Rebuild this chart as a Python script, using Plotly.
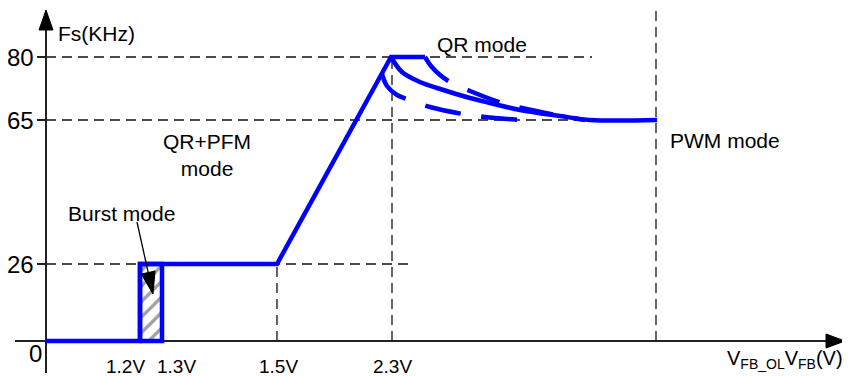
import math
import plotly.graph_objects as go

# ---- schematic axis units (x: distance from origin, y: height above 0) ----
# tick labels
y_tick_text = ["80", "65", "26"]
y_tick_pos = [284, 221, 77]
x_tick_text = ["1.2V", "1.3V", "1.5V", "2.3V"]
x_tick_pos = [94, 116, 231, 346]          # where each voltage sits on the axis
x_label_pos = [79, 130, 232, 346]          # where each label is written
x_pwm = 610                                # V_FB_OL boundary (PWM mode)

# main frequency curve: 0 -> burst -> 26k flat -> ramp -> 80k
main_x = [0, 94, 94, 231, 345, 379]
main_y = [0, 0, 77, 77, 284, 284]

# burst-mode hatched box (1.2V..1.3V, 0..26k)
burst_x = [94, 116, 116, 94, 94]
burst_y = [0, 0, 77, 77, 0]

# QR-mode decay curves
solid_x = [345, 356, 374, 391, 424, 444, 474, 514, 544, 611]
solid_y = [284, 269, 259, 253, 243, 238, 231, 225, 221, 221]
upper_x = [379, 385, 394, 404, 424, 456, 476, 510, 539]
upper_y = [284, 275, 266, 259, 250, 238, 233, 226, 221]
lower_x = [336, 341, 351, 364, 384, 417, 439, 474]
lower_y = [267, 255, 246, 241, 234, 227, 224, 221]

# "Burst mode" pointer: tail and tip
arrow_tail = (91, 119)
arrow_tip = (107, 47)

BLUE = "#0000FF"
FONT = "Liberation Sans, Arial, sans-serif"

fig = go.Figure()

fig.add_trace(go.Scatter(
    x=burst_x, y=burst_y, mode="lines", fill="toself",
    fillcolor="white",
    fillpattern=dict(shape="/", fgcolor="#444444", bgcolor="white", size=11, solidity=0.3),
    line=dict(color=BLUE, width=4.5), hoverinfo="skip"))
fig.add_trace(go.Scatter(x=main_x, y=main_y, mode="lines",
                         line=dict(color=BLUE, width=4.5), hoverinfo="skip"))
fig.add_trace(go.Scatter(x=solid_x, y=solid_y, mode="lines", line_shape="spline",
                         line=dict(color=BLUE, width=4.5), hoverinfo="skip"))
fig.add_trace(go.Scatter(x=upper_x, y=upper_y, mode="lines", line_shape="spline",
                         line=dict(color=BLUE, width=4.5, dash="34px,21px"), hoverinfo="skip"))
fig.add_trace(go.Scatter(x=lower_x, y=lower_y, mode="lines", line_shape="spline",
                         line=dict(color=BLUE, width=4.5, dash="36px,21px"), hoverinfo="skip"))

DASH = dict(color="#111111", width=1.3, dash="10px,6px")
shapes = []
# horizontal guide lines
shapes.append(dict(type="line", x0=0, x1=546, y0=284, y1=284, line=DASH, layer="below"))
shapes.append(dict(type="line", x0=0, x1=610, y0=221, y1=221, line=DASH, layer="below"))
shapes.append(dict(type="line", x0=0, x1=364, y0=77, y1=77, line=DASH, layer="below"))
# vertical guide lines
shapes.append(dict(type="line", x0=231, x1=231, y0=0, y1=77, line=DASH, layer="below"))
shapes.append(dict(type="line", x0=346, x1=346, y0=0, y1=284, line=DASH, layer="below"))
shapes.append(dict(type="line", x0=x_pwm, x1=x_pwm, y0=0, y1=333, line=DASH, layer="below"))
# axes
AX = dict(color="#222222", width=2)
shapes.append(dict(type="line", x0=-31, x1=782, y0=0, y1=0, line=AX, layer="below"))
shapes.append(dict(type="line", x0=0, x1=0, y0=-32, y1=313, line=AX, layer="below"))
shapes.append(dict(type="path", path="M 780 7 L 799 0 L 780 -7 Z",
                   fillcolor="black", line=dict(color="black", width=1)))
shapes.append(dict(type="path", path="M -7 311 L 0 331 L 7 311 Z",
                   fillcolor="black", line=dict(color="black", width=1)))
# y tick marks
for yp in y_tick_pos:
    shapes.append(dict(type="line", x0=-9, x1=0, y0=yp, y1=yp, line=AX, layer="below"))

# burst-mode pointer arrow (line + filled head)
tx, ty = arrow_tail
px, py = arrow_tip
dx, dy = px - tx, py - ty
L = math.hypot(dx, dy)
ux, uy = dx / L, dy / L
head_len, head_half = 22, 7
bx, by = px - ux * head_len, py - uy * head_len
nx, ny = -uy, ux
shapes.append(dict(type="line", x0=tx, y0=ty, x1=bx, y1=by,
                   line=dict(color="black", width=1.3)))
shapes.append(dict(type="path",
                   path=f"M {px} {py} L {bx + nx * head_half} {by + ny * head_half} "
                        f"L {bx - nx * head_half} {by - ny * head_half} Z",
                   fillcolor="black", line=dict(color="black", width=1)))

ann = []
for t, yp in zip(y_tick_text, y_tick_pos):
    ann.append(dict(x=-10, y=yp, text=t, xanchor="right", yanchor="middle",
                    showarrow=False, font=dict(size=24, family=FONT, color="black")))
ann.append(dict(x=-11, y=-12, text="0", xanchor="center", yanchor="middle",
                showarrow=False, font=dict(size=24, family=FONT, color="black")))
for t, xp in zip(x_tick_text, x_label_pos):
    ann.append(dict(x=xp, y=-25, text=t, xanchor="center", yanchor="middle",
                    showarrow=False, font=dict(size=19, family=FONT, color="black")))

LBL = dict(size=21, family=FONT, color="black")
ann += [
    dict(x=10, y=308, text="Fs(KHz)", xanchor="left", yanchor="middle", showarrow=False, font=LBL),
    dict(x=436, y=297, text="QR mode", xanchor="center", yanchor="middle", showarrow=False, font=LBL),
    dict(x=161, y=186, text="QR+PFM<br>mode", xanchor="center", yanchor="middle", showarrow=False, font=LBL),
    dict(x=622, y=201, text="PWM mode", xanchor="left", yanchor="middle", showarrow=False, font=LBL),
    dict(x=75, y=128, text="Burst mode", xanchor="center", yanchor="middle", showarrow=False, font=LBL),
    dict(x=799, y=-18, text="V<sub>FB_OL</sub>V<sub>FB</sub>(V)", xanchor="right", yanchor="middle",
         showarrow=False, font=dict(size=20, family=FONT, color="black")),
]

# the page body adds an 8px offset, so the figure is 842x368 and the
# axis ranges are set so the origin lands at page pixel (46, 341)
fig.update_layout(
    width=842, height=368,
    margin=dict(l=7, r=0, t=0, b=0),
    paper_bgcolor="white", plot_bgcolor="white",
    showlegend=False,
    xaxis=dict(range=[-31, 804], visible=False, fixedrange=True),
    yaxis=dict(range=[-35, 333], visible=False, fixedrange=True),
    shapes=shapes, annotations=ann,
)

fig.write_html("out.html")
